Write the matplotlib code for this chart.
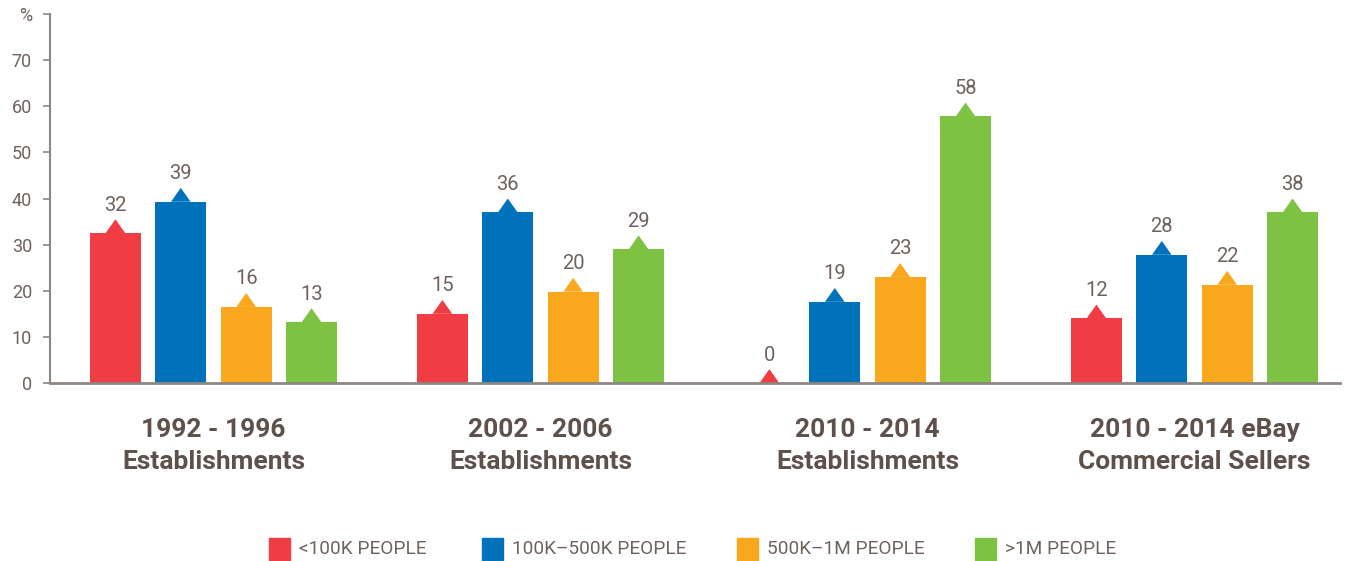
import matplotlib
matplotlib.use('Agg')
import matplotlib.pyplot as plt
from matplotlib.patches import Rectangle
import numpy as np

# data
groups = ["1992 - 1996\nEstablishments", "2002 - 2006\nEstablishments",
          "2010 - 2014\nEstablishments", "2010 - 2014 eBay\nCommercial Sellers"]
series = ["<100K PEOPLE", "100K\u2013500K PEOPLE", "500K\u20131M PEOPLE", ">1M PEOPLE"]
colors = ["#F03D44", "#0072BC", "#F9A81E", "#7DC243"]

# printed labels
small = [32, 15, 0, 12]
mid_small = [39, 36, 19, 28]
mid_large = [16, 20, 23, 22]
large = [13, 29, 58, 38]
labels = [small, mid_small, mid_large, large]

# drawn bar heights (slightly off the printed labels in the original)
small_h = [32.5, 15, 0, 14]
mid_small_h = [39.3, 37, 17.6, 27.8]
mid_large_h = [16.5, 19.8, 23, 21.3]
large_h = [13.2, 29, 57.8, 37]
heights = [small_h, mid_small_h, mid_large_h, large_h]

text_col = "#6E625D"
cat_col = "#5E504B"
axis_col = "#8E8682"

fig = plt.figure(figsize=(13.53, 5.61), dpi=100)
ax = fig.add_axes([50 / 1353, 1 - 383 / 561, 1290 / 1353, 369 / 561])

n = np.arange(len(groups))
width = 0.156
step = 0.2
tri_w = 0.06
tri_h = 3.0

for i, (vals, hts, col) in enumerate(zip(labels, heights, colors)):
    xs = n + (i - 1.5) * step
    ax.bar(xs, hts, width=width, color=col, zorder=2)
    for x, v, h in zip(xs, vals, hts):
        ax.fill([x - tri_w / 2, x, x + tri_w / 2], [h, h + tri_h, h],
                color=col, lw=0, zorder=2)
        ax.text(x, h + tri_h + 1.0, str(v), ha='center', va='bottom',
                fontsize=14.5, color=text_col, family='Roboto')

ax.set_xlim(-0.5, 3.445)
ax.set_ylim(0, 80)
ax.set_yticks(range(0, 90, 10))
ax.set_yticklabels([str(t) for t in range(0, 80, 10)] + ['%'])
ax.set_xticks([])
for lab in ax.get_yticklabels():
    lab.set_family('Roboto')
    lab.set_fontsize(13)
    lab.set_color(text_col)
ax.tick_params(axis='y', length=5, width=1.2, color=axis_col, pad=8)
for s in ['top', 'right']:
    ax.spines[s].set_visible(False)
ax.spines['left'].set_color(axis_col)
ax.spines['left'].set_linewidth(1.5)
ax.spines['bottom'].set_color(axis_col)
ax.spines['bottom'].set_linewidth(2)

for x, g in zip(n, groups):
    ax.text(x, -13.6, g, ha='center', va='center', fontsize=19, fontweight='bold',
            color=cat_col, family='Roboto', linespacing=1.42,
            transform=ax.transData, clip_on=False)

# legend
leg_x = [269, 482, 737, 975]
for lx, name, col in zip(leg_x, series, colors):
    fig.patches.append(Rectangle((lx / 1353, 1 - 560 / 561), 21 / 1353, 22 / 561,
                                 color=col, transform=fig.transFigure))
    fig.text((lx + 30) / 1353, 1 - 549 / 561, name, ha='left', va='center',
             fontsize=13.7, color=text_col, family='Roboto')

fig.savefig('out.png', dpi=100)
